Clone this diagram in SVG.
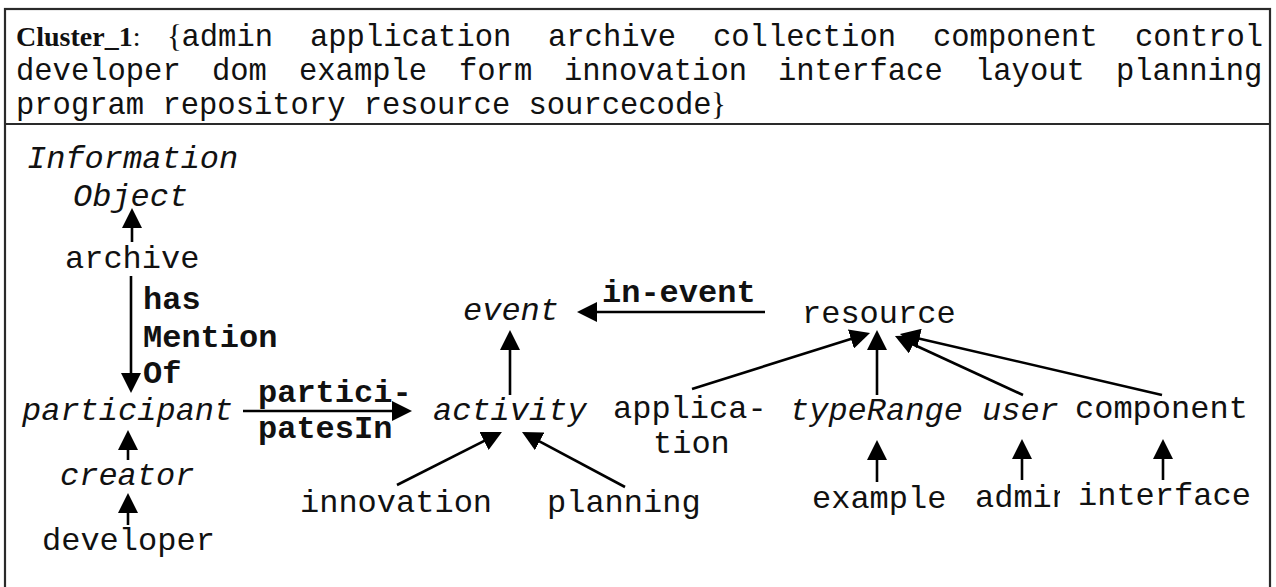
<svg xmlns="http://www.w3.org/2000/svg" width="1276" height="587" viewBox="0 0 1276 587">
  <style>
    .frame { fill: none; stroke: #2a2a2a; stroke-width: 2.2; }
    .hdr { font-family: "Liberation Mono", "Courier New", monospace; font-size: 30.5px; fill: #111; }
    .ser { font-family: "Liberation Serif", "Times New Roman", serif; font-size: 28px; fill: #111; }
    .brace { font-family: "Liberation Serif", "Times New Roman", serif; font-size: 31px; fill: #111; }
    .lbl { font-family: "Liberation Mono", "Courier New", monospace; font-size: 32px; fill: #111; }
    .it { font-style: italic; }
    .bd { font-weight: bold; }
    .edge { stroke: #000; stroke-width: 2.6; fill: none; marker-end: url(#head); }
  </style>
  <defs>
    <marker id="head" markerUnits="userSpaceOnUse" markerWidth="20" markerHeight="20" refX="14" refY="10" orient="auto">
      <path d="M0,0 L20,10 L0,20 z" fill="#000"/>
    </marker>
    <clipPath id="cutAdmin">
      <rect x="960" y="470" width="100" height="50"/>
    </clipPath>
  </defs>

  <rect width="1276" height="587" fill="#fff"/>

  <!-- table frame: header row and open body row -->
  <g id="frame">
    <rect class="frame" x="5" y="9" width="1265" height="600"/>
    <line class="frame" x1="5" y1="124" x2="1270" y2="124"/>
  </g>

  <!-- header: cluster word list, justified -->
  <g id="header">
    <text class="ser" x="16" y="46"><tspan font-weight="bold">Cluster_1</tspan>:</text>
    <text class="brace" x="167" y="47">{</text>
    <text class="hdr" y="46">
      <tspan x="181.5">admin</tspan><tspan x="310">application</tspan><tspan x="548">archive</tspan><tspan x="713">collection</tspan><tspan x="933">component</tspan><tspan x="1135">control</tspan>
    </text>
    <text class="hdr" y="80">
      <tspan x="16">developer</tspan><tspan x="212">dom</tspan><tspan x="299">example</tspan><tspan x="459">form</tspan><tspan x="564">innovation</tspan><tspan x="778">interface</tspan><tspan x="975">layout</tspan><tspan x="1116">planning</tspan>
    </text>
    <text class="hdr" x="16" y="114">program repository resource sourcecode</text>
    <text class="brace" x="711" y="115">}</text>
  </g>

  <!-- connectors -->
  <g id="edges">
    <line class="edge" x1="132" y1="242" x2="132" y2="214"/>
    <line class="edge" x1="131" y1="276" x2="131" y2="387"/>
    <line class="edge" x1="243" y1="411" x2="406" y2="411"/>
    <line class="edge" x1="128" y1="460" x2="128" y2="436"/>
    <line class="edge" x1="128" y1="525" x2="128" y2="499"/>
    <line class="edge" x1="510" y1="395" x2="510" y2="336"/>
    <line class="edge" x1="765" y1="312" x2="583" y2="312"/>
    <line class="edge" x1="397" y1="485" x2="496.6" y2="434.7"/>
    <line class="edge" x1="625" y1="487" x2="527.3" y2="434.8"/>
    <line class="edge" x1="692" y1="389" x2="864.3" y2="334.8"/>
    <line class="edge" x1="877" y1="395" x2="877" y2="336"/>
    <line class="edge" x1="1023" y1="395" x2="900.4" y2="338.5"/>
    <line class="edge" x1="1162" y1="395" x2="905.8" y2="335.4"/>
    <line class="edge" x1="877" y1="482" x2="877" y2="446"/>
    <line class="edge" x1="1022" y1="480" x2="1022" y2="445"/>
    <line class="edge" x1="1163" y1="480" x2="1163" y2="445"/>
  </g>

  <!-- edge labels -->
  <g id="edge-labels" class="lbl bd">
    <text x="143" y="309">has</text>
    <text x="143" y="347">Mention</text>
    <text x="143" y="383">Of</text>
    <text x="258" y="402">partici-</text>
    <text x="258" y="438">patesIn</text>
    <text x="602" y="302">in-event</text>
  </g>

  <!-- nodes -->
  <g id="information-object" class="lbl it">
    <text x="27" y="168">Information</text>
    <text x="73" y="206">Object</text>
  </g>
  <g id="archive"><text class="lbl" x="65" y="268">archive</text></g>
  <g id="participant"><text class="lbl it" x="22" y="420">participant</text></g>
  <g id="creator"><text class="lbl it" x="60" y="485">creator</text></g>
  <g id="developer"><text class="lbl" x="42" y="550">developer</text></g>
  <g id="event"><text class="lbl it" x="463" y="320">event</text></g>
  <g id="activity"><text class="lbl it" x="433" y="420">activity</text></g>
  <g id="innovation"><text class="lbl" x="300" y="512">innovation</text></g>
  <g id="planning"><text class="lbl" x="547" y="512">planning</text></g>
  <g id="resource"><text class="lbl" x="802" y="323">resource</text></g>
  <g id="application" class="lbl">
    <text x="613" y="418">applica-</text>
    <text x="653" y="453">tion</text>
  </g>
  <g id="typeRange"><text class="lbl it" x="790" y="420">typeRange</text></g>
  <g id="user"><text class="lbl it" x="982" y="420">user</text></g>
  <g id="component"><text class="lbl" x="1075" y="418">component</text></g>
  <g id="example"><text class="lbl" x="812" y="508">example</text></g>
  <g id="admin"><text class="lbl" x="975" y="507" clip-path="url(#cutAdmin)">admin</text></g>
  <g id="interface"><text class="lbl" x="1078" y="505">interface</text></g>
</svg>
